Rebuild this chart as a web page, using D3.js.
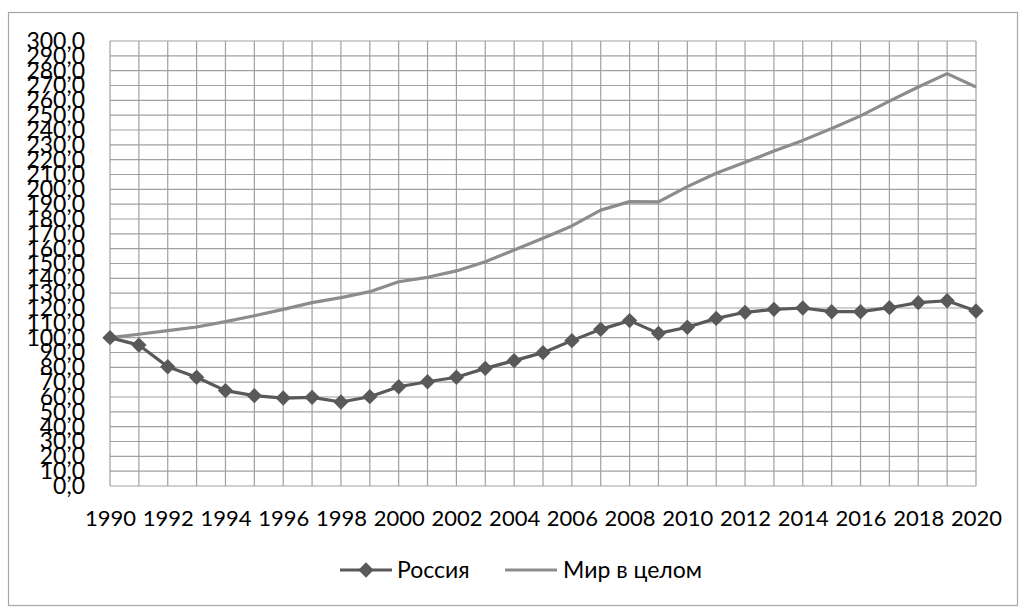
<!DOCTYPE html>
<html>
<head>
<meta charset="utf-8">
<script src="https://cdn.jsdelivr.net/npm/d3@7"></script>
<style>
  body { margin: 0; background: #fff; }
  svg { display: block; font-family: Lato, "Open Sans", sans-serif; }
</style>
</head>
<body>
<svg width="1026" height="612"></svg>
<script>
let years = d3.range(1990, 2021);

let russia = [100, 95, 80.4, 73.3, 64.3, 60.9, 59.3, 59.8, 56.6, 60.2,
  66.9, 70.3, 73.3, 79.3, 84.5, 89.9, 98, 105.6, 111.5, 102.9,
  107, 113, 117.1, 119.1, 120, 117.5, 117.5, 120.2, 123.6, 124.9, 118];

let world = [100, 102.3, 104.7, 107.2, 110.8, 114.8, 119.1, 123.6, 127, 131,
  137.7, 140.7, 145, 151.2, 159.1, 167, 175.3, 186, 191.7, 191.5,
  201.8, 210.8, 218.2, 225.8, 233, 241, 249.5, 259.5, 269, 278, 269];

let seriesNames = ["Россия", "Мир в целом"];
let yTicks = d3.range(0, 301, 10);
let xTickYears = years.filter(function(d) { return (d - 1990) % 2 === 0; });

let svg = d3.select("svg"),
    margin = {top: 41, right: 50, bottom: 126, left: 110},
    width = +svg.attr("width") - margin.left - margin.right,
    height = +svg.attr("height") - margin.top - margin.bottom;

// chart frame
svg.append("rect")
    .attr("x", 8.5).attr("y", 12.5)
    .attr("width", 1009).attr("height", 593)
    .attr("fill", "none")
    .attr("stroke", "#a6a6a6")
    .attr("stroke-width", 1.2);

let g = svg.append("g").attr("transform", "translate(" + margin.left + "," + margin.top + ")");

let x = d3.scalePoint()
    .domain(years)
    .range([0, width]);

let y = d3.scaleLinear()
    .domain([0, 300])
    .range([height, 0]);

let fmt = function(d) { return d3.format(".1f")(d).replace(".", ","); };

// horizontal grid
g.append("g")
    .selectAll("line")
    .data(yTicks)
    .join("line")
    .attr("x1", 0).attr("x2", width)
    .attr("y1", function(d) { return y(d); })
    .attr("y2", function(d) { return y(d); })
    .attr("stroke", "#a0a0a0")
    .attr("stroke-width", 1.2);

// vertical grid
g.append("g")
    .selectAll("line")
    .data(years)
    .join("line")
    .attr("x1", function(d) { return x(d); })
    .attr("x2", function(d) { return x(d); })
    .attr("y1", 0).attr("y2", height)
    .attr("stroke", "#a0a0a0")
    .attr("stroke-width", 1.2);

// y axis labels (they overlap in the original too)
let yAxis = d3.axisLeft(y)
    .tickValues(yTicks)
    .tickFormat(fmt)
    .tickSize(0)
    .tickPadding(25);

let yGroup = g.append("g").call(yAxis);
yGroup.select(".domain").remove();
yGroup.selectAll("text")
    .attr("font-size", 23)
    .attr("font-family", "Lato, sans-serif")
    .attr("fill", "#000");

// x axis labels
let xAxis = d3.axisBottom(x)
    .tickValues(xTickYears)
    .tickSize(0)
    .tickPadding(24);

let xGroup = g.append("g")
    .attr("transform", "translate(0," + height + ")")
    .call(xAxis);
xGroup.select(".domain").remove();
xGroup.selectAll("text")
    .attr("font-size", 22)
    .attr("font-family", "Lato, sans-serif")
    .attr("fill", "#000");

let line = d3.line()
    .x(function(d, i) { return x(years[i]); })
    .y(function(d) { return y(d); });

g.append("path")
    .datum(world)
    .attr("d", line)
    .attr("fill", "none")
    .attr("stroke", "#8c8c8c")
    .attr("stroke-width", 3.2)
    .attr("stroke-linejoin", "round");

g.append("path")
    .datum(russia)
    .attr("d", line)
    .attr("fill", "none")
    .attr("stroke", "#595959")
    .attr("stroke-width", 3.2)
    .attr("stroke-linejoin", "round");

let diamond = d3.symbol().type(d3.symbolDiamond2).size(150);

g.append("g")
    .selectAll("path")
    .data(russia)
    .join("path")
    .attr("d", diamond)
    .attr("transform", function(d, i) { return "translate(" + x(years[i]) + "," + y(d) + ")"; })
    .attr("fill", "#595959");

// legend
let legend = svg.append("g").attr("transform", "translate(0,570)");

legend.append("line")
    .attr("x1", 340).attr("x2", 392)
    .attr("stroke", "#595959").attr("stroke-width", 3.2);
legend.append("path")
    .attr("d", diamond)
    .attr("transform", "translate(366,0)")
    .attr("fill", "#595959");
legend.append("text")
    .attr("x", 397).attr("dy", "0.35em")
    .attr("font-size", 23)
    .text(seriesNames[0]);

legend.append("line")
    .attr("x1", 505).attr("x2", 557)
    .attr("stroke", "#8c8c8c").attr("stroke-width", 3.2);
legend.append("text")
    .attr("x", 563).attr("dy", "0.35em")
    .attr("font-size", 23)
    .text(seriesNames[1]);
</script>
</body>
</html>
